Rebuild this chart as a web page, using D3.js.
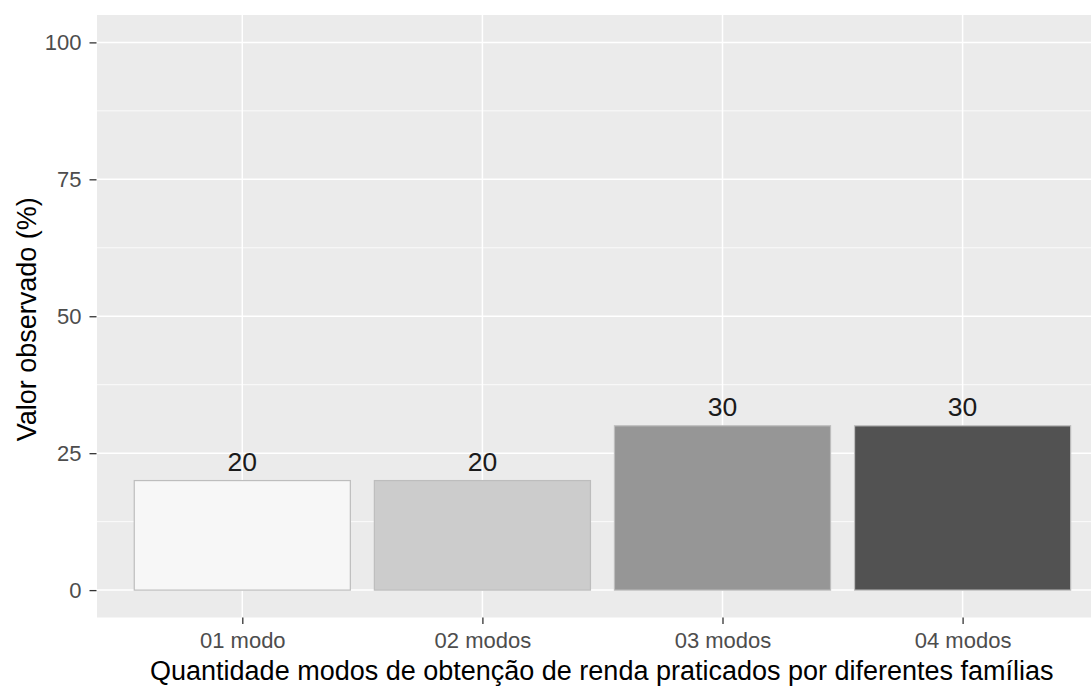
<!DOCTYPE html>
<html>
<head>
<meta charset="utf-8">
<script src="https://cdn.jsdelivr.net/npm/d3@7"></script>
<style>
  html, body { margin: 0; padding: 0; background: #fff; }
  svg { display: block; }
  text { font-family: "Liberation Sans", Arial, sans-serif; }
</style>
</head>
<body>
<svg id="chart" width="1091" height="686"></svg>
<script>
const categories = ["01 modo", "02 modos", "03 modos", "04 modos"];
const values = [20, 20, 30, 30];
const fills = ["#F7F7F7", "#CCCCCC", "#969696", "#525252"];
const yTicks = [0, 25, 50, 75, 100];
const yMinor = [12.5, 37.5, 62.5, 87.5];
const xTitle = "Quantidade modos de obtenção de renda praticados por diferentes famílias";
const yTitle = "Valor observado (%)";

const W = 1091, H = 686;
const panel = { left: 97, top: 15, bottom: 617.5 };

const svg = d3.select("#chart");

const y = d3.scaleLinear().domain([-5, 105]).range([panel.bottom, panel.top]);
const x = d3.scalePoint().domain(categories).range([242.3, 962.6]);
const step = x.step();
const panelRight = x(categories[categories.length - 1]) + 0.6 * step;

// panel background
svg.append("rect")
  .attr("x", panel.left).attr("y", panel.top)
  .attr("width", panelRight - panel.left).attr("height", panel.bottom - panel.top)
  .attr("fill", "#EBEBEB");

const grid = svg.append("g");
grid.selectAll("line.minor").data(yMinor).enter().append("line")
  .attr("x1", panel.left).attr("x2", panelRight)
  .attr("y1", d => y(d)).attr("y2", d => y(d))
  .attr("stroke", "#fff").attr("stroke-width", 0.8);
grid.selectAll("line.majory").data(yTicks).enter().append("line")
  .attr("x1", panel.left).attr("x2", panelRight)
  .attr("y1", d => y(d)).attr("y2", d => y(d))
  .attr("stroke", "#fff").attr("stroke-width", 1.5);
grid.selectAll("line.majorx").data(categories).enter().append("line")
  .attr("x1", d => x(d)).attr("x2", d => x(d))
  .attr("y1", panel.top).attr("y2", panel.bottom)
  .attr("stroke", "#fff").attr("stroke-width", 1.5);

// bars
const bw = 0.9 * step;
svg.append("g").selectAll("rect").data(values).enter().append("rect")
  .attr("x", (d, i) => x(categories[i]) - bw / 2)
  .attr("width", bw)
  .attr("y", d => y(d))
  .attr("height", d => y(0) - y(d))
  .attr("fill", (d, i) => fills[i])
  .attr("stroke", "#BDBDBD")
  .attr("stroke-width", 1.2);

// bar labels
svg.append("g").selectAll("text").data(values).enter().append("text")
  .attr("x", (d, i) => x(categories[i]))
  .attr("y", d => y(d) - 10)
  .attr("text-anchor", "middle")
  .attr("font-size", 26.5)
  .attr("fill", "#1A1A1A")
  .text(d => d);

// y axis
const yAxis = d3.axisLeft(y).tickValues(yTicks).tickSize(7).tickPadding(8);
const gy = svg.append("g").attr("transform", `translate(${panel.left - 0.5},0)`).call(yAxis);
gy.select(".domain").remove();
gy.selectAll(".tick line").attr("stroke", "#333333").attr("stroke-width", 1.3);
gy.selectAll(".tick text").attr("fill", "#4D4D4D").attr("font-size", 22)
  .attr("font-family", "Liberation Sans, Arial, sans-serif");

// x axis
const xAxis = d3.axisBottom(x).tickSize(6.5).tickPadding(8);
const gx = svg.append("g").attr("transform", `translate(0,${panel.bottom})`).call(xAxis);
gx.select(".domain").remove();
gx.selectAll(".tick line").attr("stroke", "#333333").attr("stroke-width", 1.3);
gx.selectAll(".tick text").attr("fill", "#4D4D4D").attr("font-size", 22)
  .attr("font-family", "Liberation Sans, Arial, sans-serif");

// titles
svg.append("text")
  .attr("x", (panel.left + panelRight) / 2)
  .attr("y", 680)
  .attr("text-anchor", "middle")
  .attr("font-size", 27)
  .attr("fill", "#000")
  .text(xTitle);

svg.append("text")
  .attr("transform", `translate(36,${(panel.top + panel.bottom) / 2 + 3}) rotate(-90)`)
  .attr("text-anchor", "middle")
  .attr("font-size", 27)
  .attr("fill", "#000")
  .text(yTitle);
</script>
</body>
</html>
